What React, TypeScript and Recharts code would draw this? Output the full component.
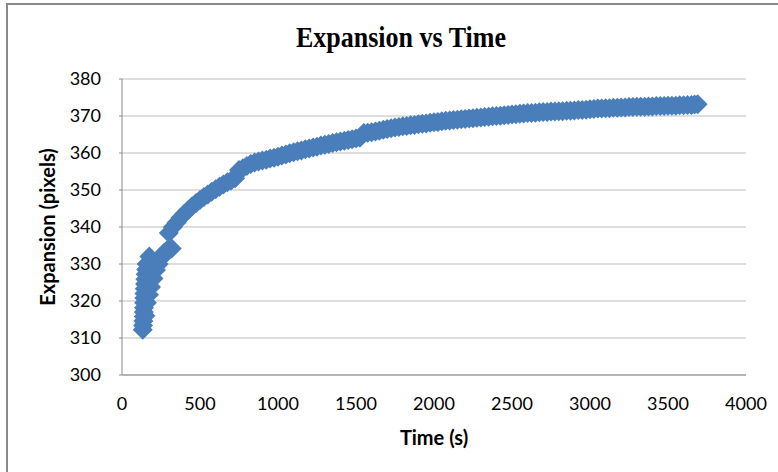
import React from "react";
import { ScatterChart, Scatter, XAxis, YAxis, CartesianGrid } from "recharts";

// Early cluster (left column + right branch)
const earlyTime = [133, 135, 137, 139, 140, 141, 142, 143, 144, 146, 148, 150, 152, 155, 158, 175,
  150, 160, 173, 186, 202, 218, 235, 252, 269, 285, 302, 319];
const earlyExp = [312.2, 313.4, 314.6, 315.8, 317.0, 318.2, 319.5, 320.8, 322.0, 323.3, 324.6, 325.9, 327.2, 328.5, 330.0, 332.0,
  316.0, 319.5, 321.7, 323.8, 326.1, 328.4, 330.0, 331.6, 333.0, 333.6, 334.0, 334.2];

// Main curve
const curveTime = [300, 325, 350, 375, 400, 425, 450, 475, 500, 525, 550, 575, 600, 625, 650, 675, 700, 725,
  750, 775, 800, 825, 850, 875, 900, 925, 950, 975, 1000, 1025, 1050, 1075, 1100, 1125, 1150, 1175,
  1200, 1225, 1250, 1275, 1300, 1325, 1350, 1375, 1400, 1425, 1450, 1475, 1500, 1525, 1550, 1575,
  1600, 1625, 1650, 1675, 1700, 1725, 1750, 1775, 1800, 1825, 1850, 1875, 1900, 1925, 1950, 1975,
  2000, 2025, 2050, 2075, 2100, 2125, 2150, 2175, 2200, 2225, 2250, 2275, 2300, 2325, 2350, 2375,
  2400, 2425, 2450, 2475, 2500, 2525, 2550, 2575, 2600, 2625, 2650, 2675, 2700, 2725, 2750, 2775,
  2800, 2825, 2850, 2875, 2900, 2925, 2950, 2975, 3000, 3025, 3050, 3075, 3100, 3125, 3150, 3175,
  3200, 3225, 3250, 3275, 3300, 3325, 3350, 3375, 3400, 3425, 3450, 3475, 3500, 3525, 3550, 3575,
  3600, 3625, 3650, 3670, 3690];
const curveExp = [338.4, 339.9, 341.2, 342.5, 343.6, 344.6, 345.6, 346.5, 347.3, 348.1, 348.8, 349.5, 350.2, 350.9, 351.5, 352.1, 352.6, 353.2,
  355.4, 355.9, 356.5, 357.0, 357.4, 357.7, 358.0, 358.2, 358.5, 358.7, 359.0, 359.3, 359.6, 359.9, 360.2, 360.5, 360.7, 361.0,
  361.2, 361.5, 361.7, 362.0, 362.2, 362.4, 362.7, 362.9, 363.1, 363.3, 363.5, 363.7, 363.9, 364.1, 365.4, 365.5,
  365.6, 365.8, 366.0, 366.3, 366.5, 366.7, 366.9, 367.0, 367.2, 367.3, 367.5, 367.6, 367.8, 367.9, 368.0, 368.2,
  368.3, 368.4, 368.6, 368.7, 368.8, 368.9, 369.0, 369.1, 369.2, 369.3, 369.4, 369.5, 369.6, 369.7, 369.8, 369.9,
  370.0, 370.1, 370.2, 370.3, 370.4, 370.5, 370.6, 370.7, 370.8, 370.8, 370.9, 371.0, 371.1, 371.1, 371.2, 371.2,
  371.3, 371.3, 371.4, 371.4, 371.5, 371.6, 371.6, 371.7, 371.8, 371.9, 372.0, 372.0, 372.1, 372.1, 372.2, 372.2,
  372.3, 372.3, 372.4, 372.4, 372.5, 372.5, 372.5, 372.6, 372.6, 372.7, 372.7, 372.7, 372.8, 372.8, 372.8, 372.9,
  372.9, 373.0, 373.0, 373.1, 373.2];

const xTicks = [0, 500, 1000, 1500, 2000, 2500, 3000, 3500, 4000];
const yTicks = [300, 310, 320, 330, 340, 350, 360, 370, 380];

const data = [
  ...earlyTime.map((t, i) => ({ t, e: earlyExp[i] })),
  ...curveTime.map((t, i) => ({ t, e: curveExp[i] })),
];

const FONT = "Lato, 'Open Sans', sans-serif";
const COLOR = "#4a7ebb";

const Diamond = (props: any) => {
  const { cx, cy } = props;
  if (cx == null || cy == null) return null;
  const r = 10;
  return (
    <polygon
      points={`${cx},${cy - r} ${cx + r},${cy} ${cx},${cy + r} ${cx - r},${cy}`}
      fill={COLOR}
    />
  );
};

export default function App() {
  return (
    <div
      style={{
        position: "fixed",
        left: 0,
        top: 0,
        width: 778,
        height: 472,
        overflow: "hidden",
        background: "#fff",
      }}
    >
      <div
        style={{
          position: "absolute",
          left: 6,
          top: 3,
          width: 900,
          height: 700,
          border: "2px solid #8a8a8a",
          boxSizing: "border-box",
        }}
      />
      <div
        style={{
          position: "absolute",
          left: 0,
          width: 802,
          textAlign: "center",
          fontFamily: "'Liberation Serif', 'Times New Roman', serif",
          fontWeight: 700,
          fontSize: 26,
          lineHeight: "26px",
          top: 25,
          color: "#000",
          transform: "scaleY(1.12)",
        }}
      >
        Expansion vs Time
      </div>
      <div
        style={{
          position: "absolute",
          left: 334,
          width: 200,
          top: 426,
          textAlign: "center",
          fontFamily: FONT,
          fontWeight: 700,
          fontSize: 20,
          lineHeight: "22px",
          color: "#000",
        }}
      >
        Time (s)
      </div>
      <div
        style={{
          position: "absolute",
          left: 47 - 100,
          top: 227 - 11,
          width: 200,
          height: 22,
          textAlign: "center",
          fontFamily: FONT,
          fontWeight: 700,
          fontSize: 20,
          lineHeight: "22px",
          color: "#000",
          transform: "rotate(-90deg)",
        }}
      >
        Expansion (pixels)
      </div>
      <div style={{ position: "absolute", left: 0, top: 0 }}>
        <ScatterChart
          width={778}
          height={472}
          margin={{ top: 79, right: 32, bottom: 47, left: 62 }}
        >
          <CartesianGrid
            vertical={false}
            horizontal={true}
            stroke="#bdbdbd"
            strokeWidth={1}
          />
          <XAxis
            type="number"
            dataKey="t"
            domain={[0, 4000]}
            ticks={xTicks}
            interval={0}
            height={50}
            axisLine={{ stroke: "#8a8a8a", strokeWidth: 1 }}
            tickLine={false}
            tickSize={0}
            tickMargin={22}
            tick={{ fill: "#000", fontSize: 18, fontFamily: FONT }}
          />
          <YAxis
            type="number"
            dataKey="e"
            domain={[300, 380]}
            ticks={yTicks}
            interval={0}
            width={60}
            axisLine={{ stroke: "#8a8a8a", strokeWidth: 1 }}
            tickLine={{ stroke: "#8a8a8a" }}
            tickSize={3}
            tickMargin={18}
            tick={{ fill: "#000", fontSize: 18, fontFamily: FONT }}
          />
          <Scatter
            data={data}
            shape={Diamond}
            isAnimationActive={false}
          />
        </ScatterChart>
      </div>
    </div>
  );
}
